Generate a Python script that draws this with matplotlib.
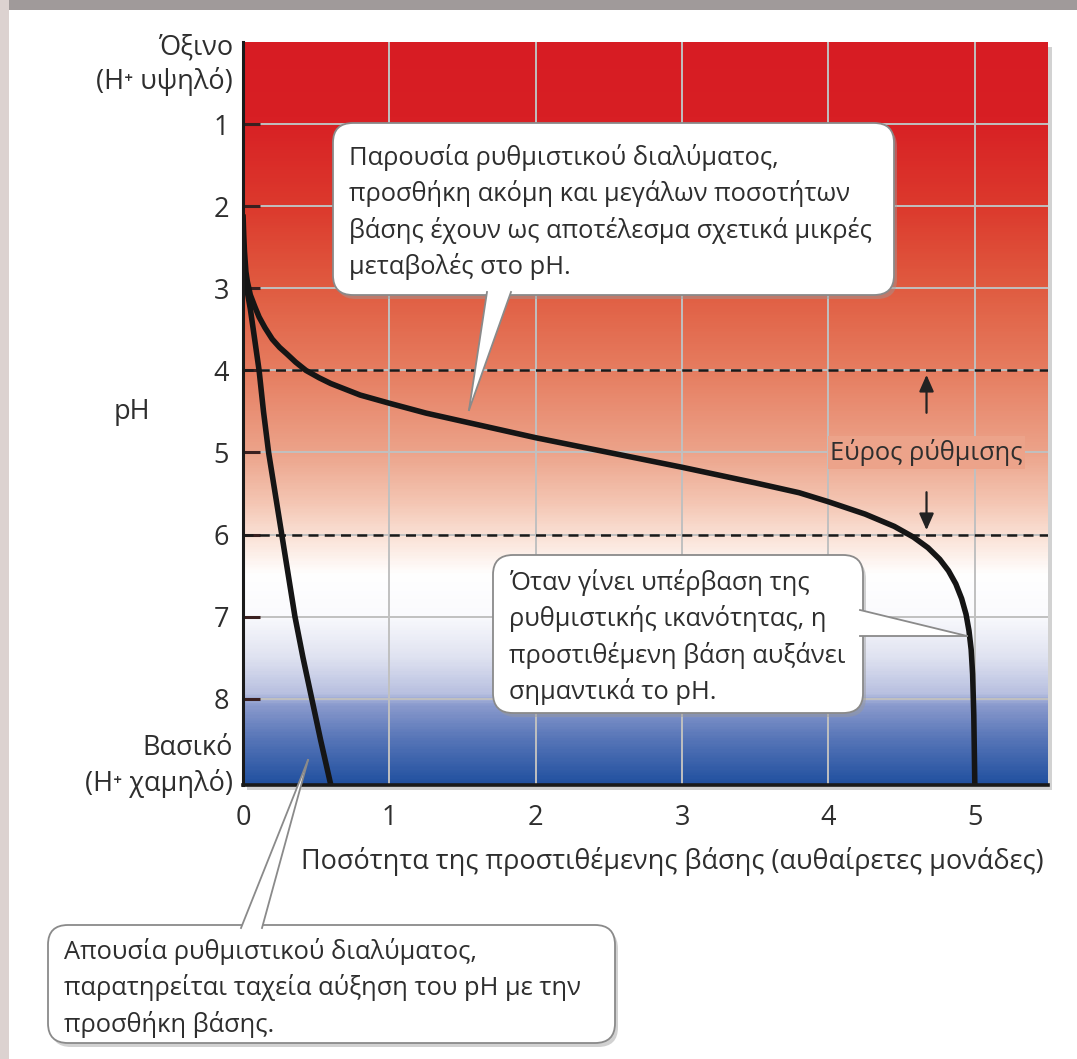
import numpy as np
import matplotlib
matplotlib.use("Agg")
import matplotlib.pyplot as plt
from matplotlib.colors import LinearSegmentedColormap
from matplotlib.patches import FancyBboxPatch, Polygon, Rectangle
from matplotlib.lines import Line2D

plt.rcParams['font.family'] = ['Open Sans', 'DejaVu Sans']

# ---------------- data ----------------
buffered_x = [0.0, 0.005, 0.01, 0.02, 0.03, 0.05, 0.08, 0.11, 0.15, 0.20, 0.25, 0.30, 0.36,
              0.43, 0.52, 0.60, 0.70, 0.80, 0.90, 1.00, 1.25, 1.50, 1.75, 2.00, 2.50,
              3.00, 3.50, 3.80, 4.00, 4.25, 4.45, 4.58, 4.68, 4.76, 4.82, 4.87, 4.91,
              4.94, 4.96, 4.975, 4.985, 4.993, 5.00]
buffered_ph = [2.1, 2.35, 2.55, 2.8, 2.92, 3.08, 3.22, 3.35, 3.48, 3.62, 3.72, 3.8, 3.9,
               4.0, 4.09, 4.16, 4.23, 4.3, 4.35, 4.4, 4.52, 4.62, 4.72, 4.82, 5.0,
               5.18, 5.37, 5.49, 5.6, 5.75, 5.9, 6.03, 6.16, 6.3, 6.44, 6.6, 6.78,
               6.97, 7.17, 7.4, 7.7, 8.2, 9.05]
unbuffered_x = [0.0, 0.015, 0.03, 0.05, 0.07, 0.09, 0.11, 0.14, 0.175, 0.22, 0.265, 0.31,
                0.355, 0.41, 0.47, 0.53, 0.60]
unbuffered_ph = [2.9, 2.97, 3.05, 3.25, 3.5, 3.75, 4.0, 4.5, 5.0, 5.5, 6.0, 6.5,
                 7.0, 7.5, 8.0, 8.5, 9.05]

x_ticks = [0, 1, 2, 3, 4, 5]
y_ticks = [1, 2, 3, 4, 5, 6, 7, 8]
buffer_range = [4, 6]

x_label = "Ποσότητα της προστιθέμενης βάσης (αυθαίρετες μονάδες)"
y_label = "pH"
acid_label = ["Όξινο", "(H⁺ υψηλό)"]
base_label = ["Βασικό", "(H⁺ χαμηλό)"]
range_label = "Εύρος ρύθμισης"
callout_buffer = ("Παρουσία ρυθμιστικού διαλύματος,\n"
                  "προσθήκη ακόμη και μεγάλων ποσοτήτων\n"
                  "βάσης έχουν ως αποτέλεσμα σχετικά μικρές\n"
                  "μεταβολές στο pH.")
callout_exceed = ("Όταν γίνει υπέρβαση της\n"
                  "ρυθμιστικής ικανότητας, η\n"
                  "προστιθέμενη βάση αυξάνει\n"
                  "σημαντικά το pH.")
callout_nobuffer = ("Απουσία ρυθμιστικού διαλύματος,\n"
                    "παρατηρείται ταχεία αύξηση του pH με την\n"
                    "προσθήκη βάσης.")

# background gradient stops (pH, colour)
grad_ph = [0.0, 0.9, 2.0, 3.0, 4.0, 5.0, 5.6, 6.1, 6.5, 7.0, 7.5, 7.95, 8.1, 8.5, 9.05]
grad_col = ['#d71c23', '#d81f24', '#dc3a2d', '#e05c41', '#e67d60', '#eca38a', '#f4c5b2',
            '#fbe6dc', '#ffffff', '#fafafd', '#e0e3f1', '#b8c0e0', '#8a9acd', '#5876b8', '#2251a0']

# ---------------- figure ----------------
W, H = 1077, 1059
fig = plt.figure(figsize=(W / 100, H / 100), dpi=100)
fig.patch.set_facecolor('white')


def fx(x):
    return x / W


def fy(y):
    return 1 - y / H


TXT = '#2e2e2e'
FS_CALL = 18.4
FS_AX = 19.5

# page border strips
fig.patches.append(Rectangle((0, fy(10)), 1, 10 / H, transform=fig.transFigure,
                             facecolor='#a09a9a', edgecolor='none', zorder=-2))
fig.patches.append(Rectangle((0, 0), 9 / W, 1, transform=fig.transFigure,
                             facecolor='#dcd2d0', edgecolor='none', zorder=-2))

ax_l, ax_r, ax_t, ax_b = 243, 1048, 42, 785
# shadow behind axes
fig.patches.append(Rectangle((fx(ax_l + 4), fy(ax_b + 5)), (ax_r - ax_l) / W, (ax_b - ax_t) / H,
                             transform=fig.transFigure, facecolor='#b5b5b5', edgecolor='none',
                             alpha=0.6, zorder=-1))

ax = fig.add_axes([fx(ax_l), fy(ax_b), (ax_r - ax_l) / W, (ax_b - ax_t) / H])
ax.set_zorder(2)
ax.set_xlim(0, 5.5)
ax.set_ylim(9.05, 0)

cmap = LinearSegmentedColormap.from_list(
    'phgrad', [(p / grad_ph[-1], c) for p, c in zip(grad_ph, grad_col)])
grad = np.linspace(0, 1, 600).reshape(-1, 1)
ax.imshow(grad, cmap=cmap, aspect='auto', extent=[0, 5.5, 9.05, 0],
          origin='upper', zorder=0, interpolation='bilinear')

# grid
for xv in x_ticks[1:]:
    ax.axvline(xv, color='#c0c0c0', lw=1.4, zorder=1)
for yv in y_ticks:
    ax.axhline(yv, color='#c0c0c0', lw=1.4, zorder=1)

# buffer range dashed lines
for yv in buffer_range:
    ax.axhline(yv, color='#1a1a1a', lw=1.8, ls=(0, (4, 2.5)), zorder=3)

# curves
ax.plot(buffered_x, buffered_ph, color='#151515', lw=4, solid_capstyle='butt',
        solid_joinstyle='round', zorder=4)
ax.plot(unbuffered_x, unbuffered_ph, color='#151515', lw=4, solid_capstyle='butt',
        solid_joinstyle='round', zorder=4)

# range annotation
xr = 4.67
ax.text(xr, 5.0, range_label, ha='center', va='center', fontsize=FS_CALL, color=TXT, zorder=5,
        bbox=dict(boxstyle='square,pad=0.1', facecolor=cmap(5.0 / 9.05), edgecolor='none'))
ax.annotate('', xy=(xr, buffer_range[0] + 0.02), xytext=(xr, 4.55),
            arrowprops=dict(arrowstyle='-|>,head_length=0.5,head_width=0.22', color='#222222',
                            lw=1.6, mutation_scale=20), zorder=5)
ax.annotate('', xy=(xr, buffer_range[1] - 0.02), xytext=(xr, 5.45),
            arrowprops=dict(arrowstyle='-|>,head_length=0.5,head_width=0.22', color='#222222',
                            lw=1.6, mutation_scale=20), zorder=5)

# axes styling
for s in ['top', 'right']:
    ax.spines[s].set_visible(False)
ax.spines['left'].set_linewidth(2.2)
ax.spines['bottom'].set_linewidth(2.6)
ax.spines['left'].set_color('#1a1a1a')
ax.spines['bottom'].set_color('#1a1a1a')
ax.spines['left'].set_zorder(6)
ax.spines['bottom'].set_zorder(6)

ax.set_xticks(x_ticks)
ax.set_xticklabels([str(v) for v in x_ticks])
ax.set_yticks(y_ticks)
ax.set_yticklabels([str(v) for v in y_ticks])
ax.tick_params(axis='x', length=0, pad=14, labelsize=FS_AX, labelcolor=TXT)
ax.tick_params(axis='y', direction='in', length=12, width=2.2, color='#3a2020',
               pad=10, labelsize=FS_AX, labelcolor=TXT)

fig.text(fx(132), fy(412), y_label, ha='center', va='center', fontsize=FS_AX, color=TXT)
fig.text(fx(672), fy(862), x_label, ha='center', va='center', fontsize=FS_AX, color=TXT)
fig.text(fx(233), fy(48), acid_label[0], ha='right', va='center', fontsize=FS_AX, color=TXT)
fig.text(fx(233), fy(82), acid_label[1], ha='right', va='center', fontsize=FS_AX, color=TXT)
fig.text(fx(233), fy(748), base_label[0], ha='right', va='center', fontsize=FS_AX, color=TXT)
fig.text(fx(233), fy(783), base_label[1], ha='right', va='center', fontsize=FS_AX, color=TXT)


# ---------------- callouts ----------------
def callout(box, tail, text, text_dy=21, z=10):
    x0, y0, x1, y1 = box
    r = 20
    shadow = FancyBboxPatch((fx(x0 + 3), fy(y1 + 4)), (x1 - x0) / W, (y1 - y0) / H,
                            boxstyle='round,pad=0,rounding_size=%f' % (r / W),
                            transform=fig.transFigure, facecolor='#9a9a9a', edgecolor='none',
                            alpha=0.45, zorder=z)
    fig.patches.append(shadow)
    patch = FancyBboxPatch((fx(x0), fy(y1)), (x1 - x0) / W, (y1 - y0) / H,
                           boxstyle='round,pad=0,rounding_size=%f' % (r / W),
                           transform=fig.transFigure, facecolor='white', edgecolor='#8a8a8a',
                           lw=1.3, zorder=z + 1)
    fig.patches.append(patch)
    (bx1, by1), (bx2, by2), (tx, ty) = tail
    poly = Polygon([(fx(bx1), fy(by1)), (fx(bx2), fy(by2)), (fx(tx), fy(ty))], closed=True,
                   transform=fig.transFigure, facecolor='white', edgecolor='none', zorder=z + 2)
    fig.patches.append(poly)
    for (bx, by) in [(bx1, by1), (bx2, by2)]:
        fig.lines.append(Line2D([fx(bx), fx(tx)], [fy(by), fy(ty)], transform=fig.transFigure,
                                color='#8a8a8a', lw=1.3, zorder=z + 3))
    fig.text(fx(x0 + 16), fy(y0 + text_dy), text, ha='left', va='top', fontsize=FS_CALL,
             color=TXT, linespacing=1.45, zorder=z + 4)


callout((333, 123, 894, 295), [(487, 292), (511, 292), (469, 410)], callout_buffer, 21)
callout((493, 555, 863, 713), [(860, 610), (860, 636), (967, 636)], callout_exceed, 14)
callout((48, 925, 615, 1043), [(241, 928), (262, 928), (308, 760)], callout_nobuffer, 13)

fig.savefig('out.png', dpi=100)
